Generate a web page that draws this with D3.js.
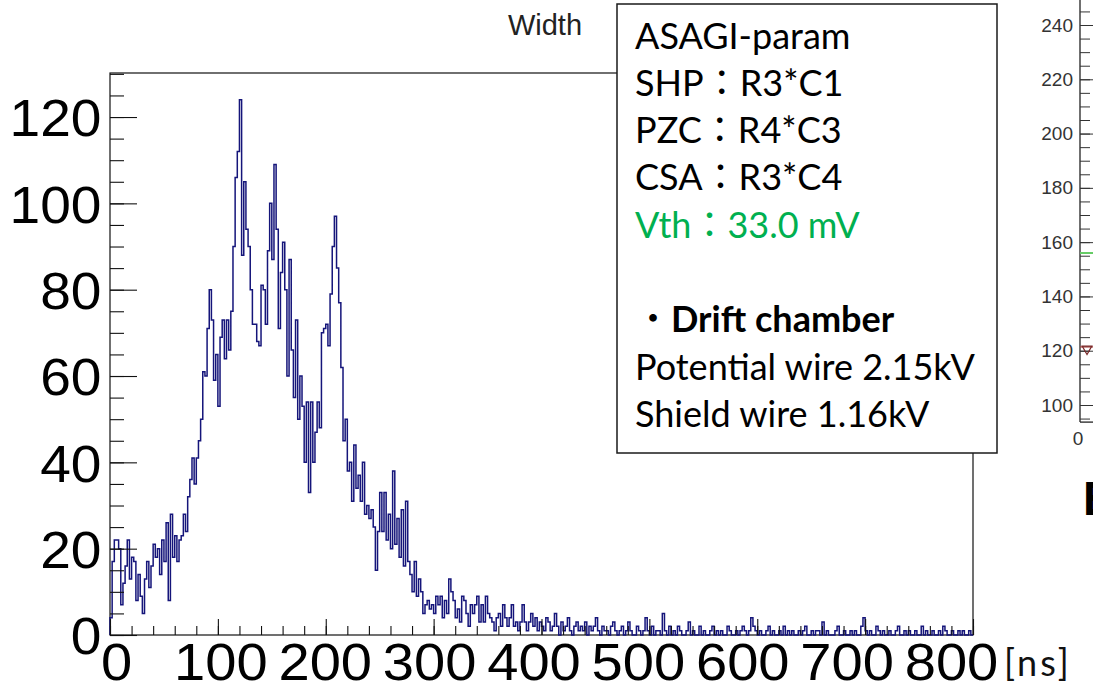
<!DOCTYPE html>
<html>
<head>
<meta charset="utf-8">
<script src="https://cdn.jsdelivr.net/npm/d3@7/dist/d3.min.js"></script>
<style>
  html, body { margin: 0; padding: 0; background: #ffffff; }
  svg { display: block; }
</style>
</head>
<body>
<svg id="chart" width="1093" height="690"></svg>
<script>
// ---- Width histogram: 400 bins of 2 ns from 0 to 800 ns ----
const binWidthNs = 2;
const widthCounts = [
  // 0 - 98 ns
  4, 17, 22, 22, 20, 7, 12, 16, 22, 13, 18, 17, 8, 14, 9, 5, 13, 17, 11, 16,
  21, 18, 20, 14, 22, 17, 26, 8, 28, 18, 23, 17, 22, 23, 28, 24, 32, 36, 41, 35,
  // 80 - 158 ns
  41, 45, 50, 61, 60, 71, 80, 73, 59, 65, 53, 69, 73, 64, 73, 66, 75, 90, 106, 112,
  124, 88, 105, 94, 90, 80, 72, 72, 68, 67, 81, 80, 72, 89, 100, 87, 109, 94, 71, 84,
  // 160 - 238 ns
  91, 80, 60, 87, 66, 55, 73, 50, 60, 53, 40, 54, 33, 54, 40, 47, 54, 48, 70, 71,
  72, 67, 79, 90, 97, 85, 77, 62, 45, 50, 38, 40, 31, 44, 34, 37, 31, 40, 28, 30,
  // 240 - 318 ns
  27, 29, 25, 15, 24, 33, 24, 33, 22, 28, 20, 38, 21, 27, 18, 29, 16, 31, 17, 14,
  10, 17, 9, 13, 10, 5, 7, 8, 6, 7, 5, 9, 7, 9, 4, 8, 5, 13, 10, 8,
  // 320 - 398 ns
  4, 6, 3, 9, 8, 5, 2, 7, 5, 7, 9, 3, 7, 3, 9, 5, 4, 3, 1, 4,
  5, 2, 7, 4, 2, 4, 7, 2, 3, 1, 3, 7, 3, 1, 3, 5, 2, 4, 1, 3,
  // 400 - 518 ns
  2, 1, 4, 3, 1, 2, 5, 2, 0, 3, 1, 2, 4, 1, 0, 2, 3, 1, 2, 1,
  3, 0, 2, 1, 2, 4, 1, 0, 2, 1, 1, 0, 2, 3, 1, 0, 1, 2, 0, 1,
  3, 1, 0, 0, 2, 1, 0, 1, 4, 1, 0, 2, 0, 1, 1, 0, 5, 1, 0, 2,
  // 520 - 638 ns
  0, 1, 0, 2, 1, 0, 0, 1, 3, 0, 1, 0, 0, 2, 0, 1, 0, 0, 1, 2,
  0, 1, 0, 1, 0, 0, 2, 1, 0, 0, 1, 0, 1, 2, 1, 0, 1, 4, 2, 1,
  0, 1, 0, 0, 1, 2, 0, 1, 0, 0, 1, 0, 2, 0, 1, 0, 1, 0, 0, 1,
  // 640 - 798 ns
  0, 1, 2, 0, 0, 1, 0, 1, 1, 0, 3, 0, 1, 0, 0, 0, 1, 2, 0, 0,
  1, 0, 0, 1, 0, 1, 0, 0, 2, 4, 1, 0, 1, 0, 0, 2, 1, 0, 1, 0,
  0, 1, 0, 0, 1, 2, 0, 0, 1, 0, 1, 0, 0, 1, 0, 0, 2, 0, 1, 0,
  0, 1, 0, 0, 1, 0, 2, 1, 0, 0, 1, 0, 0, 1, 0, 1, 0, 0, 1, 0
];
const xTickValues = [0, 100, 200, 300, 400, 500, 600, 700, 800];
const yTickValues = [0, 20, 40, 60, 80, 100, 120];
const chartTitle = "Width";
const xUnit = "[ns]";

// ---- annotation box ----
const boxLines = [
  "ASAGI-param",
  "SHP\uFF1AR3*C1",
  "PZC\uFF1AR4*C3",
  "CSA\uFF1AR3*C4",
  "Vth\uFF1A33.0 mV",
  "",
  "\u30FBDrift chamber",
  "Potential wire 2.15kV",
  "Shield wire 1.16kV"
];

// ---- neighbouring panel (only its axis edge is on screen) ----
const sideTickValues = [100, 120, 140, 160, 180, 200, 220, 240];
const sideMinorValues = d3.range(95, 260, 5);
const sideThreshold = 156;
const sideMarker = 121.4;
const sideAxisMin = 93.7;
const sideXLabel = "0";
const sideHeading = "E";

// ================= drawing =================
const svg = d3.select("#chart");
const rootFont = "'Liberation Sans', Arial, Helvetica, sans-serif";
const boxFont = "Lato, 'Noto Sans', sans-serif";

const frame = { left: 110, right: 973, top: 73, bottom: 635 };
const x = d3.scaleLinear([0, 800], [frame.left, frame.right]);
const y = d3.scaleLinear([0, 130.2], [frame.bottom, frame.top]);
// the enlarged x labels run on a slightly tighter pitch than the ticks
const xLabel = d3.scaleLinear([0, 800], [116, 951]);

// frame
svg.append("rect")
  .attr("x", frame.left).attr("y", frame.top)
  .attr("width", frame.right - frame.left).attr("height", frame.bottom - frame.top)
  .attr("fill", "none").attr("stroke", "#111").attr("stroke-width", 1.2);

// histogram outline
const pts = [[0, 0]]
  .concat(widthCounts.map((v, i) => [i * binWidthNs, v]))
  .concat([[widthCounts.length * binWidthNs, 0]]);
svg.append("path")
  .datum(pts)
  .attr("fill", "none")
  .attr("stroke", "#15157a")
  .attr("stroke-width", 1.5)
  .attr("d", d3.line().x(d => x(d[0])).y(d => y(d[1])).curve(d3.curveStepAfter));

// y axis: major + minor ticks, inside the frame
const yMinor = svg.append("g").attr("transform", `translate(${frame.left},0)`)
  .call(d3.axisLeft(y).tickValues(d3.range(0, 131, 5)).tickSize(-14).tickFormat(""));
const yMajor = svg.append("g").attr("transform", `translate(${frame.left},0)`)
  .call(d3.axisLeft(y).tickValues(yTickValues).tickSize(-27).tickPadding(8).tickFormat(d3.format("d")));
[yMinor, yMajor].forEach(g => {
  g.select(".domain").remove();
  g.selectAll("line").attr("stroke", "#111").attr("stroke-width", 1.1);
});
yMajor.selectAll("text")
  .attr("font-family", rootFont).attr("font-size", 52).attr("fill", "#000")
  .attr("dy", "0.36em")
  .attr("transform", "scale(1.06,1)");

// x axis: major + minor ticks, inside the frame
const xMinor = svg.append("g").attr("transform", `translate(0,${frame.bottom})`)
  .call(d3.axisBottom(x).tickValues(d3.range(0, 801, 20)).tickSize(-9).tickFormat(""));
const xMajor = svg.append("g").attr("transform", `translate(0,${frame.bottom})`)
  .call(d3.axisBottom(x).tickValues(xTickValues).tickSize(-16).tickFormat(""));
[xMinor, xMajor].forEach(g => {
  g.select(".domain").remove();
  g.selectAll("line").attr("stroke", "#111").attr("stroke-width", 1.1);
});
const xLabels = svg.append("g").attr("transform", `translate(0,${frame.bottom})`)
  .call(d3.axisBottom(xLabel).tickValues(xTickValues).tickSize(0).tickFormat(d3.format("d")));
xLabels.select(".domain").remove();
xLabels.selectAll("text")
  .attr("font-family", rootFont).attr("font-size", 51).attr("fill", "#000")
  .attr("y", 45).attr("dy", null)
  .attr("transform", "scale(1.1,1)");

// title
svg.append("text")
  .attr("x", 545).attr("y", 35)
  .attr("text-anchor", "middle")
  .attr("font-family", rootFont).attr("font-size", 29).attr("fill", "#222")
  .text(chartTitle);

// unit label
svg.append("text")
  .attr("x", 1004).attr("y", 676)
  .attr("font-family", boxFont).attr("font-size", 36).attr("fill", "#111")
  .attr("letter-spacing", 3)
  .text(xUnit);

// ---- neighbouring panel edge ----
const yR = d3.scaleLinear([100, 240], [405, 25]);
const side = svg.append("g");
side.append("line")
  .attr("x1", 1080).attr("x2", 1080)
  .attr("y1", yR(sideAxisMin)).attr("y2", 0)
  .attr("stroke", "#222").attr("stroke-width", 1.3);
side.append("line")
  .attr("x1", 1080).attr("x2", 1093)
  .attr("y1", yR(sideAxisMin)).attr("y2", yR(sideAxisMin))
  .attr("stroke", "#222").attr("stroke-width", 1.3);
const sideMinor = side.append("g").attr("transform", "translate(1080,0)")
  .call(d3.axisLeft(yR).tickValues(sideMinorValues).tickSize(-10).tickFormat(""));
const sideMajor = side.append("g").attr("transform", "translate(1080,0)")
  .call(d3.axisLeft(yR).tickValues(sideTickValues).tickSize(-14).tickPadding(7).tickFormat(d3.format("d")));
[sideMinor, sideMajor].forEach(g => {
  g.select(".domain").remove();
  g.selectAll("line").attr("stroke", "#333").attr("stroke-width", 1);
});
sideMajor.selectAll("text")
  .attr("font-family", rootFont).attr("font-size", 19).attr("fill", "#333");
side.append("text")
  .attr("x", 1078).attr("y", yR(sideAxisMin) + 23)
  .attr("text-anchor", "middle")
  .attr("font-family", rootFont).attr("font-size", 19).attr("fill", "#333")
  .text(sideXLabel);
side.append("line")
  .attr("x1", 1080).attr("x2", 1093)
  .attr("y1", yR(sideThreshold)).attr("y2", yR(sideThreshold))
  .attr("stroke", "#66cc66").attr("stroke-width", 2);
side.append("line")
  .attr("x1", 1080).attr("x2", 1093)
  .attr("y1", yR(sideMarker)).attr("y2", yR(sideMarker))
  .attr("stroke", "#a04040").attr("stroke-width", 1.3);
side.append("path")
  .attr("d", d3.symbol(d3.symbolTriangle, 40)())
  .attr("transform", `translate(1087,${yR(sideMarker) + 2}) rotate(180)`)
  .attr("fill", "none").attr("stroke", "#7a2a2a").attr("stroke-width", 1.2);
side.append("text")
  .attr("x", 1082).attr("y", 515)
  .attr("font-family", "'Noto Sans', sans-serif").attr("font-weight", 700)
  .attr("font-size", 46).attr("fill", "#000")
  .text(sideHeading);

// ---- annotation box (covers the top-right of the frame) ----
const box = svg.append("g");
box.append("rect")
  .attr("x", 617).attr("y", 4).attr("width", 380).attr("height", 449)
  .attr("fill", "#fff").attr("stroke", "#1a1a1a").attr("stroke-width", 1.5);

// size the box text so the widest line spans its measured width
const probe = box.append("text").attr("font-family", boxFont).attr("font-size", 100)
  .text("Potential wire 2.15kV");
const boxSize = 100 * 340 / probe.node().getComputedTextLength();
probe.remove();

const lineStep = 47.3;
boxLines.forEach((s, i) => {
  if (!s) return;
  const t = box.append("text")
    .attr("x", 635).attr("y", 48.5 + i * lineStep)
    .attr("font-family", boxFont).attr("font-size", boxSize)
    .attr("fill", i === 4 ? "#00b050" : "#000");
  if (i === 6) {
    t.append("tspan").attr("font-family", "'Noto Sans CJK JP', sans-serif").text(s[0]);
    t.append("tspan").attr("font-weight", 700).text(s.slice(1));
  } else {
    const parts = s.split("\uFF1A");
    if (parts.length === 2) {
      t.append("tspan").text(parts[0]);
      t.append("tspan").attr("font-family", "'Noto Sans CJK JP', sans-serif").text("\uFF1A");
      t.append("tspan").text(parts[1]);
    } else {
      t.text(s);
    }
  }
});
</script>
</body>
</html>
